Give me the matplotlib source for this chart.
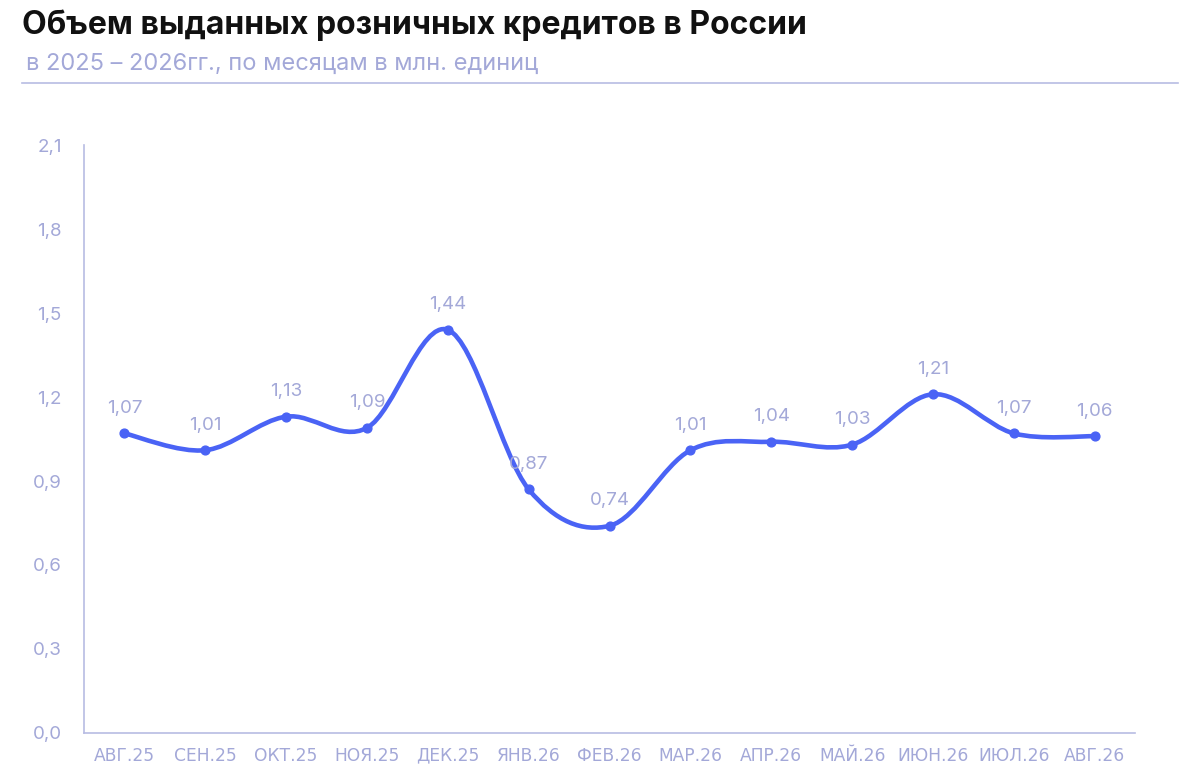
import numpy as np
import matplotlib
matplotlib.use("Agg")
import matplotlib.pyplot as plt
from matplotlib.path import Path
from matplotlib.patches import PathPatch

plt.rcParams['font.family'] = ['Inter', 'DejaVu Sans']

months = ['АВГ.25', 'СЕН.25', 'ОКТ.25', 'НОЯ.25', 'ДЕК.25', 'ЯНВ.26', 'ФЕВ.26',
          'МАР.26', 'АПР.26', 'МАЙ.26', 'ИЮН.26', 'ИЮЛ.26', 'АВГ.26']
values = [1.07, 1.01, 1.13, 1.09, 1.44, 0.87, 0.74, 1.01, 1.04, 1.03, 1.21, 1.07, 1.06]
yticks = [0.0, 0.3, 0.6, 0.9, 1.2, 1.5, 1.8, 2.1]

line_c = '#4a63f5'
soft = '#a3a8d8'
axis_c = '#b8bce3'

fig = plt.figure(figsize=(12, 7.8), dpi=100)
ax = fig.add_axes([0.07, 0.0603, 0.876, 0.7537])

x = np.arange(len(values))
y = np.array(values)

# smooth curve through the points (Catmull-Rom as cubic Bezier segments)
t = 1 / 6
pts = np.column_stack([x, y])
ext = np.vstack([pts[0], pts, pts[-1]])
verts = [tuple(pts[0])]
codes = [Path.MOVETO]
for i in range(len(pts) - 1):
    p0, p1, p2, p3 = ext[i], ext[i + 1], ext[i + 2], ext[i + 3]
    c1 = p1 + (p2 - p0) * t
    c2 = p2 - (p3 - p1) * t
    verts += [tuple(c1), tuple(c2), tuple(p2)]
    codes += [Path.CURVE4] * 3
ax.add_patch(PathPatch(Path(verts, codes), facecolor='none', edgecolor=line_c,
                       lw=3.3, capstyle='round', joinstyle='round', zorder=3))
ax.scatter(x, y, s=40, color=line_c, zorder=4)

for xi, v in zip(x, values):
    ax.annotate(f'{v:.2f}'.replace('.', ','), (xi, v), xytext=(0, 12),
                textcoords='offset points', ha='center', va='bottom',
                fontsize=13.5, color=soft)

ax.set_xlim(-0.5, len(values) - 0.5)
ax.set_ylim(0, 2.1)
ax.set_yticks(yticks)
ax.set_yticklabels([f'{v:.1f}'.replace('.', ',') for v in yticks])
ax.set_xticks(x)
ax.set_xticklabels(months, family=['DejaVu Sans'])
ax.tick_params(length=0, colors=soft)
ax.tick_params(axis='y', pad=16, labelsize=13.5)
ax.tick_params(axis='x', pad=10, labelsize=12.3)
for s in ['top', 'right']:
    ax.spines[s].set_visible(False)
for s in ['left', 'bottom']:
    ax.spines[s].set_color(axis_c)
    ax.spines[s].set_linewidth(1.2)

fig.text(0.018, 0.988, 'Объем выданных розничных кредитов в России', fontsize=23,
         fontweight='bold', color='#111111', va='top')
fig.text(0.022, 0.932, 'в 2025 – 2026гг., по месяцам в млн. единиц', fontsize=17,
         color=soft, va='top')
fig.add_artist(plt.Line2D([0.018, 0.982], [0.894, 0.894], color=axis_c, lw=1.2))

fig.savefig('out.png', dpi=100)
